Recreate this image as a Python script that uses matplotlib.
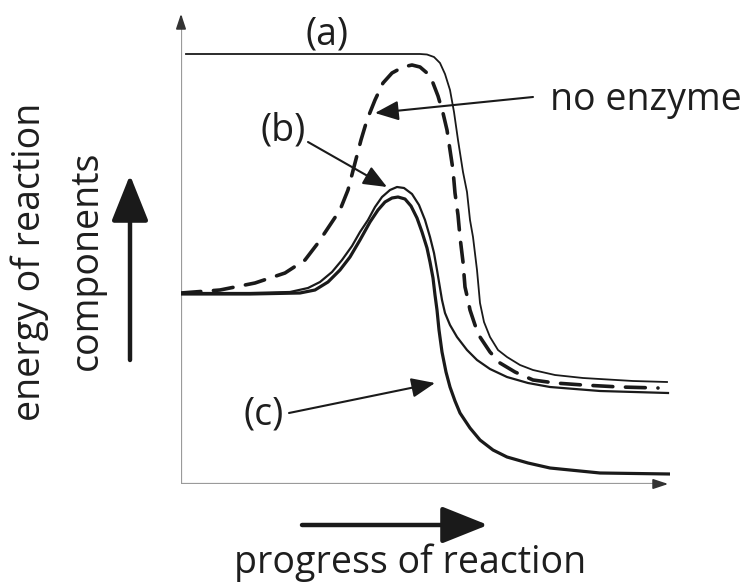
import matplotlib
matplotlib.use("Agg")
import matplotlib.pyplot as plt

# curves: x = progress, y = energy (origin at the axes corner)
a_x = [5, 119, 239, 246, 253, 259, 264, 269, 273, 277, 282, 286, 289, 292, 296, 299,
       303, 309, 317, 326, 339, 352, 374, 402, 452, 486]
a_y = [430, 430, 430, 429.5, 427, 421, 410, 394, 372, 344, 312, 292, 264, 247, 214, 181,
       162, 147, 134, 127, 119, 114, 109, 106, 103, 102]

noenz_x = [0, 39, 74, 104, 124, 137, 149, 159, 167, 174, 180, 186, 194, 202, 211, 222,
           231, 239, 246, 252, 257, 262, 266, 269, 272, 274, 277, 279, 282, 284, 287, 289,
           294, 299, 309, 319, 334, 352, 374, 402, 439, 477]
noenz_y = [191, 194, 201, 211, 224, 241, 259, 274, 294, 321, 344, 364, 384, 401, 411, 417,
           419, 417, 411, 401, 388, 371, 354, 334, 314, 291, 269, 247, 222, 197, 184, 174,
           159, 147, 132, 121, 112, 104, 101, 99, 97, 96]

b_x = [0, 69, 109, 127, 139, 151, 161, 171, 179, 187, 194, 201, 209, 216, 223, 231, 238,
       244, 249, 253, 256, 259, 261, 264, 269, 276, 286, 296, 309, 326, 347, 369, 419, 487]
b_y = [191, 191, 192, 196, 202, 212, 224, 238, 252, 264, 277, 287, 294, 297, 296, 290, 279,
       264, 247, 231, 214, 196, 184, 171, 159, 147, 134, 124, 115, 107, 101, 97, 93, 91]

c_x = [0, 69, 119, 134, 147, 159, 169, 179, 189, 197, 204, 211, 217, 224, 230, 236, 241,
       246, 249, 252, 254, 256, 258, 261, 265, 269, 274, 279, 289, 299, 312, 326, 347, 369,
       419, 489]
c_y = [190, 190, 191, 194, 202, 214, 227, 244, 262, 274, 282, 286, 287, 285, 278, 266, 252,
       236, 222, 206, 189, 174, 154, 132, 112, 97, 83, 71, 56, 44, 34, 27, 21, 16, 11, 10]

FONT = "Open Sans"
FS = 27

fig = plt.figure(figsize=(7.52, 5.88), dpi=100)
ax = fig.add_axes([181 / 752, 104 / 588, 489 / 752, 472 / 588])
ax.set_xlim(0, 489)
ax.set_ylim(0, 472)
ax.axis("off")

# axes with small arrow heads
ax.plot([0, 0], [0, 468], color="#9a9a9a", lw=1.6, solid_capstyle="butt")
ax.plot([0, 484], [0, 0], color="#9a9a9a", lw=1.6, solid_capstyle="butt")
ax.annotate("", xy=(0, 473), xytext=(0, 455), annotation_clip=False,
            arrowprops=dict(arrowstyle="-|>,head_length=0.9,head_width=0.3",
                            color="#333333", lw=1.2, mutation_scale=10))
ax.annotate("", xy=(490, 0), xytext=(472, 0), annotation_clip=False,
            arrowprops=dict(arrowstyle="-|>,head_length=0.9,head_width=0.3",
                            color="#333333", lw=1.2, mutation_scale=10))

ax.plot(a_x, a_y, color="#1a1a1a", lw=1.3, solid_joinstyle="round")
ax.plot(noenz_x, noenz_y, color="#1a1a1a", lw=2.6, linestyle=(0, (5.5, 3.5)),
        dash_capstyle="round")
ax.plot(b_x, b_y, color="#1a1a1a", lw=1.6, solid_joinstyle="round")
ax.plot(c_x, c_y, color="#1a1a1a", lw=2.3, solid_joinstyle="round")

# labels with pointer arrows
small = dict(arrowstyle="-|>,head_length=1.2,head_width=0.5", color="#1a1a1a",
             lw=1.5, mutation_scale=12, shrinkA=0, shrinkB=0)
txt = dict(fontsize=FS, family=FONT, ha="center", va="center", color="#1e1e1e",
           clip_on=False)
ax.text(146, 449, "(a)", **txt)
ax.text(465, 384, "no enzyme", **txt)
ax.annotate("", xy=(194, 371), xytext=(352, 387), arrowprops=small)
ax.text(102, 354, "(b)", **txt)
ax.annotate("", xy=(206, 297), xytext=(127, 342), arrowprops=small)
ax.text(83, 69, "(c)", **txt)
ax.annotate("", xy=(254, 101), xytext=(108, 71), arrowprops=small)

# axis titles with big direction arrows
big = dict(arrowstyle="-|>,head_length=0.95,head_width=0.38", color="#1a1a1a",
           lw=3.2, mutation_scale=30, shrinkA=0, shrinkB=0)
ax.text(-151, 222, "energy of reaction", rotation=90, **txt)
ax.text(-94, 224, "components", rotation=90, **txt)
ax.annotate("", xy=(-51, 309), xytext=(-51, 124), annotation_clip=False, arrowprops=big)
ax.text(229, -79, "progress of reaction", **txt)
ax.annotate("", xy=(307, -41), xytext=(121, -41), annotation_clip=False, arrowprops=big)

fig.savefig("out.png", dpi=100)
